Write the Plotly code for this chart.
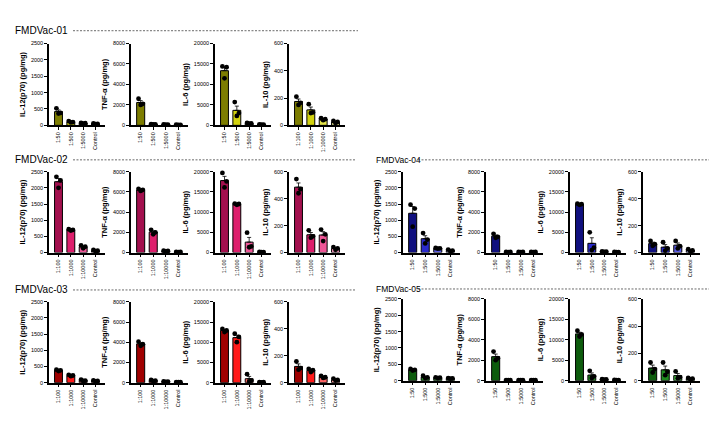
import numpy as np
import plotly.graph_objects as go

W, H = 717, 421
FONT = "Liberation Sans, Arial, sans-serif"

# ---------------- data ----------------
groups = ["FMDVac-01", "FMDVac-02", "FMDVac-03", "FMDVac-04", "FMDVac-05"]
cyto_titles = ["IL-12(p70) (pg/mg)", "TNF-α (pg/mg)", "IL-6 (pg/mg)", "IL-10 (pg/mg)"]
y_max = [2500, 8000, 20000, 600]
y_dtick = [500, 2000, 5000, 200]

labels_50 = ["1:50", "1:500", "1:5000", "Control"]
labels_100 = ["1:100", "1:1000", "1:10000", "Control"]

g01_labels = [labels_50, labels_50, labels_50, labels_100]
g02_labels = [labels_100, labels_100, labels_100, labels_100]
g03_labels = [labels_100, labels_100, labels_100, labels_100]
g04_labels = [labels_50, labels_50, labels_50, labels_50]
g05_labels = [labels_50, labels_50, labels_50, labels_50]

# replicate values (3 per dilution)
g01_il12 = [[520, 380, 360], [130, 100, 90], [75, 65, 55], [60, 45, 35]]
g01_tnf = [[2600, 2100, 2000], [120, 100, 90], [90, 80, 70], [60, 50, 40]]
g01_il6 = [[14400, 14200, 11500], [5700, 3000, 2300], [600, 450, 400], [250, 200, 150]]
g01_il10 = [[210, 165, 150], [155, 95, 90], [52, 45, 38], [32, 25, 18]]

g02_il12 = [[2340, 2230, 2000], [720, 700, 680], [220, 180, 130], [80, 55, 40]]
g02_tnf = [[6300, 6200, 6100], [2250, 2000, 1800], [180, 150, 120], [60, 50, 40]]
g02_il6 = [[19700, 17600, 16100], [12100, 12000, 11800], [4900, 1500, 1300], [150, 100, 80]]
g02_il10 = [[545, 470, 440], [165, 120, 110], [170, 135, 85], [40, 30, 20]]

g03_il12 = [[400, 380, 360], [240, 220, 200], [90, 65, 50], [70, 50, 40]]
g03_tnf = [[4050, 3800, 3650], [260, 200, 150], [120, 100, 80], [60, 50, 40]]
g03_il6 = [[13300, 12900, 12500], [12100, 11300, 10000], [2100, 500, 300], [150, 100, 60]]
g03_il10 = [[157, 108, 96], [101, 92, 78], [50, 40, 35], [30, 20, 15]]

g04_il12 = [[1480, 1360, 800], [600, 400, 280], [140, 130, 120], [90, 60, 40]]
g04_tnf = [[1850, 1550, 1450], [60, 50, 40], [60, 50, 40], [60, 50, 40]]
g04_il6 = [[12100, 11950, 11800], [5000, 1200, 600], [250, 200, 150], [150, 100, 60]]
g04_il10 = [[86, 62, 50], [76, 30, 14], [86, 47, 30], [25, 15, 10]]

g05_il12 = [[360, 330, 310], [150, 100, 80], [100, 90, 80], [80, 70, 60]]
g05_tnf = [[2840, 2200, 2000], [60, 50, 40], [60, 50, 40], [60, 50, 40]]
g05_il6 = [[12200, 11300, 10800], [2400, 1050, 650], [350, 300, 250], [180, 150, 120]]
g05_il10 = [[133, 85, 60], [133, 65, 40], [68, 25, 18], [20, 15, 10]]

g01_colors = ["#7d7d00", "#d2d20f", "#e4e44a", "#d8d880"]
g02_colors = ["#a3104e", "#dd1f6c", "#ee5596", "#f090b8"]
g03_colors = ["#a00000", "#ff1a1a", "#ff6464", "#ff9a9a"]
g04_colors = ["#10107f", "#2a2acc", "#5a5ae6", "#9a9aea"]
g05_colors = ["#0d5c0d", "#1f8a1f", "#45b845", "#88cc88"]

# ---------------- layout geometry (pixels) ----------------
xdom_left = [(41, 97), (123, 180), (207, 263), (281, 337)]
xdom_right = [(395, 452), (478, 535), (562, 618), (635, 692)]

panels = [
    (g01_labels, [g01_il12, g01_tnf, g01_il6, g01_il10], g01_colors, xdom_left, (33, 116)),
    (g02_labels, [g02_il12, g02_tnf, g02_il6, g02_il10], g02_colors, xdom_left, (163, 245)),
    (g03_labels, [g03_il12, g03_tnf, g03_il6, g03_il10], g03_colors, xdom_left, (295, 377)),
    (g04_labels, [g04_il12, g04_tnf, g04_il6, g04_il10], g04_colors, xdom_right, (163, 245)),
    (g05_labels, [g05_il12, g05_tnf, g05_il6, g05_il10], g05_colors, xdom_right, (292, 375)),
]

# title x, title y, font size, dash x0, dash x1
titles_geo = [
    (5, 20, 10, 65, 350),
    (5, 151, 10, 65, 348),
    (5, 283, 10, 65, 348),
    (366, 151, 8.5, 410, 702),
    (366, 282, 8.5, 410, 702),
]

fig = go.Figure()
layout = {}
offsets = [-0.17, 0.17, 0.0]

k = 0
for gi, (labels_list, data_list, colors, xdoms, (ytop, ybot)) in enumerate(panels):
    for ci in range(4):
        k += 1
        xa = "x" if k == 1 else f"x{k}"
        ya = "y" if k == 1 else f"y{k}"
        reps = np.array(data_list[ci], dtype=float)
        means = reps.mean(axis=1)
        sem = reps.std(axis=1, ddof=1) / np.sqrt(reps.shape[1])
        cats = list(range(len(means)))
        fig.add_trace(go.Bar(
            x=cats, y=means, width=0.64,
            marker=dict(color=colors, line=dict(color="black", width=1)),
            error_y=dict(type="data", array=sem, arrayminus=[0] * len(sem), symmetric=False,
                         color="black", thickness=0.8, width=2),
            xaxis=xa, yaxis=ya, showlegend=False, hoverinfo="skip"))
        xs, ys = [], []
        for i in cats:
            for j, off in enumerate(offsets):
                xs.append(i + off)
                ys.append(reps[i][j])
        fig.add_trace(go.Scatter(
            x=xs, y=ys, mode="markers",
            marker=dict(color="black", size=4.8),
            xaxis=xa, yaxis=ya, showlegend=False, hoverinfo="skip", cliponaxis=False))
        x0, x1 = xdoms[ci]
        xkey = "xaxis" if k == 1 else f"xaxis{k}"
        ykey = "yaxis" if k == 1 else f"yaxis{k}"
        layout[xkey] = dict(
            domain=[x0 / W, x1 / W], anchor=ya, range=[-0.77, 3.77],
            tickmode="array", tickvals=cats, ticktext=labels_list[ci], tickangle=-90,
            showline=True, linecolor="black", linewidth=1.5, mirror=False,
            ticks="outside", ticklen=3, tickwidth=1, tickcolor="black",
            tickfont=dict(size=5.5, color="black", family=FONT),
            showgrid=False, zeroline=False, fixedrange=True)
        layout[ykey] = dict(
            domain=[1 - ybot / H, 1 - ytop / H], anchor=xa, range=[0, y_max[ci]],
            tickmode="linear", tick0=0, dtick=y_dtick[ci], tickformat="d",
            showline=True, linecolor="black", linewidth=1.5,
            ticks="outside", ticklen=3, tickwidth=1, tickcolor="black",
            tickfont=dict(size=5.5, color="black", family=FONT),
            title=dict(text="<b>" + cyto_titles[ci] + "</b>", font=dict(size=7.5, color="black", family=FONT), standoff=4),
            showgrid=False, zeroline=False, fixedrange=True)

annotations = []
shapes = []
for gi, (tx, ty, fs, dx0, dx1) in enumerate(titles_geo):
    annotations.append(dict(
        text=groups[gi], x=tx / W, y=1 - ty / H, xref="paper", yref="paper",
        xanchor="left", yanchor="middle", showarrow=False,
        font=dict(size=fs, color="black", family=FONT)))
    shapes.append(dict(
        type="line", xref="paper", yref="paper",
        x0=dx0 / W, x1=dx1 / W, y0=1 - ty / H, y1=1 - ty / H,
        line=dict(color="#444444", width=0.8, dash="2px,1.5px")))

fig.update_layout(
    width=W, height=H, margin=dict(l=0, r=0, t=0, b=0),
    paper_bgcolor="white", plot_bgcolor="white",
    font=dict(family=FONT, color="black"),
    annotations=annotations, shapes=shapes, bargap=0.3,
    **layout)

fig.write_html("out.html")
